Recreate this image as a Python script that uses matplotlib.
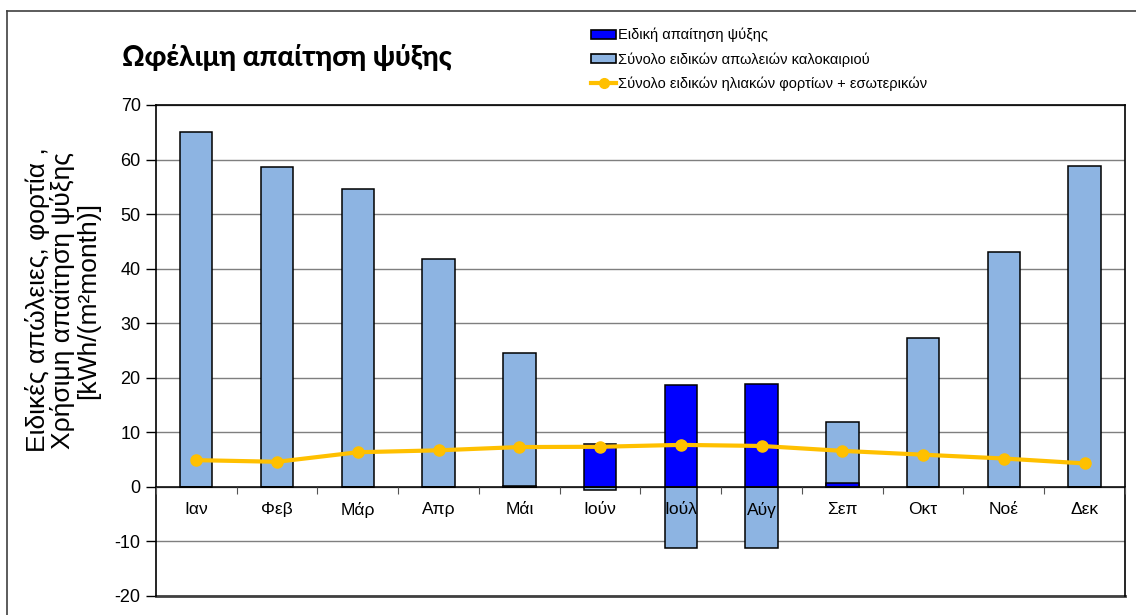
import numpy as np
import matplotlib.pyplot as plt
from matplotlib.patches import Patch
from matplotlib.lines import Line2D

plt.rcParams['font.family'] = ['Liberation Sans', 'DejaVu Sans']
plt.rcParams['axes.unicode_minus'] = False

months = ['Ιαν', 'Φεβ', 'Μάρ', 'Απρ', 'Μάι', 'Ιούν', 'Ιούλ', 'Αύγ', 'Σεπ', 'Οκτ', 'Νοέ', 'Δεκ']
cooling_demand = [0, 0, 0, 0, 0.2, 7.9, 18.7, 18.9, 0.7, 0, 0, 0]
summer_losses = [65.0, 58.7, 54.6, 41.8, 24.6, -0.5, -11.2, -11.2, 11.9, 27.3, 43.1, 58.8]
solar_internal = [4.9, 4.6, 6.35, 6.7, 7.3, 7.35, 7.7, 7.5, 6.6, 5.9, 5.2, 4.3]

lbl_demand = 'Ειδική απαίτηση ψύξης'
lbl_losses = 'Σύνολο ειδικών απωλειών καλοκαιριού'
lbl_gains = 'Σύνολο ειδικών ηλιακών φορτίων + εσωτερικών'

c_light = '#8db4e2'
c_dark = '#0000ff'
c_line = '#ffc000'

fig = plt.figure(figsize=(11.36, 6.15), dpi=100)
ax = fig.add_axes([0.1373, 0.0309, 0.9903 - 0.1373, 0.8293 - 0.0309])

x = np.arange(len(months))
ax.bar(x, summer_losses, width=0.4, color=c_light, edgecolor='black', linewidth=1.1, zorder=2)
ax.bar(x, cooling_demand, width=0.4, color=c_dark, edgecolor='black', linewidth=1.1, zorder=3)
ax.plot(x, solar_internal, color=c_line, lw=3, marker='o', ms=8, zorder=4)

ax.set_xlim(-0.5, len(months) - 0.5)
ax.set_ylim(-20, 70)
ax.set_yticks(np.arange(-20, 71, 10))
ax.yaxis.grid(True, color='#7f7f7f', lw=1)
ax.set_axisbelow(True)
ax.xaxis.set_zorder(5)   # month names sit on top of the bars
ax.tick_params(axis='y', labelsize=13, length=7, width=1, pad=4)

# category axis crosses at zero, plot-area frame drawn separately
for s in ['left', 'right', 'top']:
    ax.spines[s].set_color('black')
    ax.spines[s].set_linewidth(1.2)
ax.spines['bottom'].set_position(('data', 0))
ax.spines['bottom'].set_linewidth(1.1)
ax.spines['bottom'].set_zorder(5)
ax.plot([0, 1], [0, 0], transform=ax.transAxes, color='#404040', lw=2, clip_on=False)
ax.set_xticks(np.arange(-0.5, len(months), 1))
ax.set_xticklabels([])
ax.set_xticks(x, minor=True)
ax.set_xticklabels(months, minor=True, fontsize=12.5)
ax.tick_params(axis='x', which='major', length=5, color='#555555', direction='out')
ax.tick_params(axis='x', which='minor', length=0, pad=11)

fig.text(0.107, 0.906, 'Ωφέλιμη απαίτηση ψύξης', fontsize=20, fontweight='black',
         family=['Lato', 'DejaVu Sans'], ha='left', va='center')
fig.text(0.055, 0.512, 'Ειδικές απώλειες, φορτία ,\nΧρήσιμη απαίτηση ψύξης\n[kWh/(m²month)]',
         rotation=90, ha='center', va='center', fontsize=19, linespacing=1.03)

handles = [Patch(facecolor=c_dark, edgecolor='black', lw=1.2),
           Patch(facecolor=c_light, edgecolor='black', lw=1.2),
           Line2D([], [], color=c_line, lw=3, marker='o', ms=7)]
fig.legend(handles, [lbl_demand, lbl_losses, lbl_gains], loc='upper left',
           bbox_to_anchor=(0.509, 0.976), frameon=False, fontsize=10.5,
           handlelength=1.7, handleheight=0.6, handletextpad=0.15, labelspacing=0.66)

# chart-area border
fig.add_artist(Line2D([0.006, 0.006], [0, 0.982], color='#404040', lw=1.2))
fig.add_artist(Line2D([0.006, 1], [0.982, 0.982], color='#404040', lw=1.2))

fig.savefig('out.png', dpi=100)
